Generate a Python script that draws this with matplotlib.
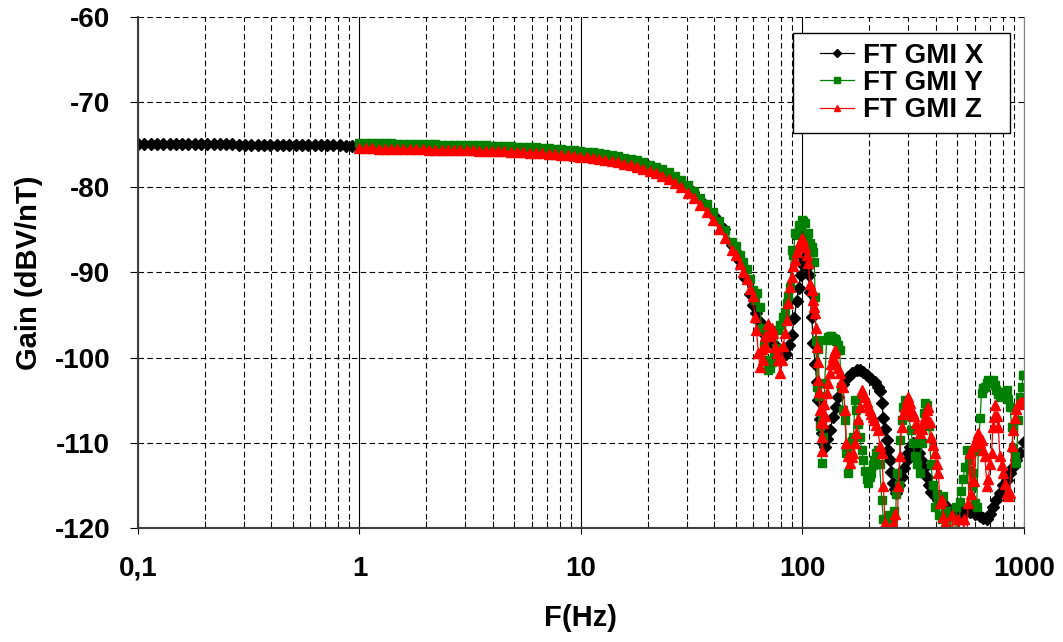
import matplotlib
matplotlib.use("Agg")
import matplotlib.pyplot as plt
from matplotlib.patches import Rectangle
from matplotlib.ticker import FixedLocator, LogLocator, NullFormatter

plt.rcParams['font.family'] = ['Liberation Sans', 'DejaVu Sans']
plt.rcParams['font.weight'] = 'bold'
plt.rcParams['axes.unicode_minus'] = False

# --- data ------------------------------------------------------------------
# FT GMI X, 0.1 .. 1 Hz (only drawn for this series)
fx_low = [0.100, 0.107, 0.114, 0.122, 0.130, 0.139, 0.148, 0.158, 0.169, 0.180,
          0.193, 0.206, 0.220, 0.235, 0.250, 0.267, 0.285, 0.305, 0.325, 0.347,
          0.371, 0.396, 0.423, 0.451, 0.482, 0.515, 0.550, 0.587, 0.627, 0.669,
          0.715, 0.763, 0.815, 0.870, 0.929]
gx_low = [-74.90, -74.90, -74.91, -74.91, -74.92, -74.92, -74.93, -74.93, -74.94, -74.94,
          -74.95, -74.95, -74.96, -74.96, -74.97, -74.97, -74.98, -74.98, -74.99, -74.99,
          -75.00, -75.00, -75.01, -75.01, -75.02, -75.02, -75.03, -75.03, -75.04, -75.05,
          -75.06, -75.07, -75.08, -75.09, -75.10]

# FT GMI X, 1 .. 48 Hz (hidden under Y and Z)
fx_mid = [1.0, 1.3, 1.7, 2.2, 2.8, 3.6, 4.6, 6.0, 7.7, 10, 13, 16, 20, 24, 28, 32, 36, 40, 44, 48]
gx_mid = [-75.12, -75.14, -75.18, -75.26, -75.32, -75.37, -75.45, -75.60, -75.77, -76.05,
          -76.42, -76.85, -77.55, -78.35, -79.35, -80.55, -81.95, -83.40, -84.95, -86.80]

# FT GMI Y / Z, 1 .. 48 Hz
f_mid = [1.00, 1.07, 1.14, 1.22, 1.30, 1.39, 1.48, 1.58, 1.69, 1.80,
         1.93, 2.06, 2.20, 2.35, 2.50, 2.67, 2.85, 3.05, 3.25, 3.47,
         3.71, 3.96, 4.23, 4.51, 4.82, 5.15, 5.50, 5.87, 6.27, 6.69,
         7.15, 7.63, 8.15, 8.70, 9.29, 9.92, 10.6, 11.3, 12.1, 12.9,
         13.8, 14.7, 15.7, 16.8, 17.9, 19.1, 20.4, 21.8, 23.3, 24.9,
         26.6, 28.4, 30.3, 32.4, 34.6, 36.9, 39.4, 42.1, 44.9, 48.0]
gy_mid = [-74.80, -74.81, -74.82, -74.83, -74.84, -74.85, -74.86, -74.87, -74.88, -74.90,
          -74.92, -74.95, -74.96, -74.98, -75.00, -75.01, -75.02, -75.04, -75.05, -75.06,
          -75.08, -75.10, -75.12, -75.15, -75.18, -75.21, -75.24, -75.28, -75.32, -75.36,
          -75.41, -75.46, -75.52, -75.58, -75.65, -75.73, -75.82, -75.90, -76.00, -76.10,
          -76.22, -76.35, -76.50, -76.66, -76.84, -77.05, -77.32, -77.58, -77.90, -78.25,
          -78.70, -79.15, -79.75, -80.40, -81.20, -82.00, -82.90, -83.90, -85.00, -86.40]
gz_mid = [-75.40, -75.42, -75.43, -75.44, -75.45, -75.46, -75.47, -75.48, -75.49, -75.51,
          -75.53, -75.56, -75.57, -75.59, -75.61, -75.62, -75.64, -75.66, -75.67, -75.68,
          -75.70, -75.72, -75.75, -75.78, -75.81, -75.84, -75.87, -75.91, -75.96, -76.00,
          -76.05, -76.11, -76.17, -76.24, -76.31, -76.40, -76.49, -76.58, -76.68, -76.79,
          -76.92, -77.05, -77.21, -77.38, -77.57, -77.79, -78.07, -78.35, -78.68, -79.05,
          -79.52, -80.00, -80.62, -81.30, -82.12, -82.95, -83.88, -84.90, -86.00, -87.40]

# 50 .. 1000 Hz
fx_hi = [50, 52, 55, 58, 60, 62, 64, 66, 68, 71, 74, 77, 81, 84, 87, 89.5, 92, 94, 96, 98,
         100, 101.5, 103, 105, 106.5, 108, 110, 112, 114, 116, 118, 120, 122, 124, 126, 129,
         133, 137, 141, 145, 152, 160, 168, 176, 182, 188, 195, 204, 213, 220, 224, 228, 232,
         236, 240, 244, 248, 252, 256, 261, 265, 272, 280, 287, 295, 300, 306, 311, 316, 321,
         327, 335, 344, 353, 363, 372, 382, 395, 410, 425, 440, 463, 490, 520, 545, 570, 600,
         630, 655, 680, 700, 724, 750, 779, 807, 838, 865, 892, 925, 959, 1000]
gx_hi = [-87.6, -88.6, -90.6, -92.5, -93.8, -94.8, -95.8, -96.6, -97.3, -98.1, -98.5, -98.8,
         -99.3, -99.6, -98.5, -97.3, -95.3, -93.4, -91.8, -90.3, -89.0, -88.3, -88.6, -89.3,
         -90.3, -92.3, -95.2, -98.3, -100.8, -102.8, -105.0, -107.2, -108.8, -110.0, -110.5,
         -109.6, -108.5, -107.0, -105.8, -104.6, -103.1, -102.3, -101.8, -101.5, -101.4,
         -101.7, -102.0, -102.5, -102.9, -103.4, -103.9, -105.3, -107.1, -108.4, -109.7,
         -110.9, -112.0, -113.4, -114.7, -115.4, -115.9, -115.0, -114.0, -113.0, -112.0,
         -111.2, -110.5, -110.2, -110.0, -110.2, -110.5, -111.2, -112.0, -113.0, -114.0,
         -115.0, -115.8, -116.3, -116.7, -117.0, -117.3, -118.1, -118.1, -118.1, -118.1,
         -118.1, -118.4, -118.6, -118.8, -119.0, -118.3, -117.5, -116.7, -115.9, -115.0,
         -114.4, -113.6, -112.8, -112.0, -111.2, -109.9]

fy_hi = [50, 52, 54, 56, 58, 60, 61, 62.5, 64, 65.5, 67, 68.5, 70, 71.5, 73, 74.5, 76, 77.8,
         79.5, 81.6, 83, 84.7, 86.2, 87.8, 89.3, 91, 92.5, 94.2, 96, 97.5, 99, 100.8, 102.6,
         104.5, 106.2, 108, 110, 111.7, 113, 114, 115, 116, 117, 118, 119, 120.5, 122, 123,
         124, 126, 128.5, 131, 133, 135, 137, 139.5, 142, 144.5, 147, 150, 152.5, 155.6, 158,
         161, 164, 167, 169.6, 172.6, 175.3, 178, 181.8, 185, 188, 191.5, 195, 198, 201, 204,
         207.5, 211, 215, 219, 223, 228, 232, 236, 240, 245, 250, 254, 258, 262, 265, 268,
         272, 275.6, 280, 285, 290, 296, 302, 308, 315, 322, 330, 338, 345, 352, 358, 365,
         372, 380, 388, 396, 404, 412, 420, 428, 432, 436, 445, 455, 463, 470, 480, 495, 505,
         515, 522, 531, 542, 553, 562, 570, 580, 590, 601, 611, 622, 634, 643, 655, 667, 678,
         690, 705, 724, 738, 750, 765, 779, 793, 807, 820, 835, 850, 865, 880, 895, 910, 925,
         940, 959, 975, 993, 1000]
gy_hi = [-86.9, -88.0, -88.8, -89.6, -90.8, -92.0, -93.2, -92.4, -94.0, -96.5, -98.6, -100.3,
         -101.5, -101.2, -100.5, -99.6, -98.9, -96.7, -96.2, -95.2, -94.6, -93.6, -92.8, -91.7,
         -87.4, -87.9, -85.4, -85.6, -84.4, -84.5, -83.8, -84.0, -84.2, -85.6, -85.4, -86.5,
         -87.0, -87.6, -88.8, -92.9, -98.1, -103.4, -99.0, -97.9, -104.5, -108.0, -112.4,
         -107.3, -109.3, -103.0, -97.9, -97.6, -97.5, -97.4, -97.7, -97.8, -98.1, -98.5, -99.1,
         -103.4, -106.1, -107.3, -111.2, -113.5, -110.4, -109.8, -109.3, -105.0, -106.1,
         -107.8, -109.3, -110.8, -112.0, -113.3, -114.3, -114.7, -114.0, -113.5, -112.6,
         -112.0, -111.2, -110.8, -112.5, -116.7, -119.0, -123.0, -121.0, -118.5, -124.0,
         -119.0, -118.0, -121.5, -116.0, -113.5, -115.0, -109.7, -107.3, -105.8, -105.0,
         -105.2, -106.8, -108.5, -110.0, -111.5, -112.5, -113.5, -110.0, -106.5, -105.3,
         -105.6, -108.0, -112.5, -115.0, -117.5, -116.0, -118.5, -116.5, -119.0, -116.3,
         -122.0, -118.0, -125.0, -118.7, -121.0, -123.0, -117.5, -124.0, -117.0, -115.7,
         -114.2, -112.8, -110.8, -112.0, -113.2, -115.1, -113.5, -117.1, -117.5, -111.0,
         -107.1, -104.2, -103.6, -103.4, -103.0, -102.6, -102.9, -102.6, -103.2, -103.8,
         -104.3, -104.6, -104.0, -104.2, -104.0, -103.8, -104.8, -105.8, -108.1, -110.6,
         -111.5, -112.4, -107.3, -104.6, -103.5, -102.0, -102.0]

fz_hi = [50, 52, 54, 56, 58, 59.7, 61, 62, 63.2, 64.3, 65.4, 66.5, 67.5, 68.6, 70, 71.3, 72.5,
         73.8, 75.1, 76.5, 77.8, 79.1, 80.5, 82, 83.4, 84.7, 86.2, 87.8, 89.3, 91, 92.5, 94, 96,
         97.5, 99, 100.8, 102.6, 104.5, 106.2, 108, 110, 111.7, 113, 113.9, 115, 116, 117, 118,
         119, 120, 121, 122, 123, 124, 125.5, 127, 129, 131, 133, 135, 137, 138.5, 140, 142,
         144.5, 147, 150, 152.5, 155.6, 158, 161, 164, 167, 169.6, 172.5, 175, 178.5, 182, 185,
         188, 191.7, 195, 198, 201, 204, 207.5, 211, 215, 219, 224, 228, 232, 235.8, 238, 245,
         250, 255, 262, 266, 271, 275.6, 280, 285, 290, 295, 301, 305, 310, 315, 320, 327, 333,
         339, 345, 351, 357, 363, 369, 375, 382, 389, 396, 403, 410, 418, 425, 432, 440, 447,
         460, 475, 490, 505, 520, 535, 548, 560, 570, 575, 590, 597, 611, 622, 632, 643, 655,
         667, 680, 690, 702, 714, 724, 732, 740, 752, 765, 779, 793, 807, 820, 835, 850, 865,
         880, 895, 910, 925, 940, 955, 970, 985, 1000]
gz_hi = [-87.9, -89.0, -89.9, -90.8, -91.9, -92.8, -95.2, -96.7, -99.5, -101.1, -99.0, -100.3,
         -97.5, -98.7, -96.0, -97.5, -96.5, -97.1, -98.7, -99.5, -100.3, -101.8, -100.3, -98.6,
         -97.1, -95.6, -93.6, -91.7, -90.5, -89.2, -88.5, -87.6, -87.0, -86.4, -86.0, -86.3,
         -87.0, -88.0, -88.9, -91.3, -92.0, -93.2, -94.0, -94.8, -96.5, -98.7, -100.5, -102.6,
         -104.0, -106.1, -107.5, -109.3, -111.0, -107.7, -105.5, -106.8, -104.2, -103.0,
         -101.8, -100.7, -99.9, -99.4, -99.1, -100.7, -101.2, -101.8, -102.8, -103.4, -106.1,
         -110.0, -111.5, -112.4, -111.7, -111.2, -110.0, -108.9, -107.2, -105.8, -103.8,
         -104.2, -104.6, -105.2, -105.8, -106.2, -106.6, -107.0, -107.3, -107.9, -108.5,
         -110.4, -111.2, -115.1, -119.4, -122.0, -120.5, -124.0, -119.5, -118.3, -122.0,
         -115.1, -111.6, -108.1, -106.6, -105.8, -105.0, -104.6, -105.3, -106.2, -106.5,
         -106.9, -107.7, -108.3, -108.9, -108.4, -107.7, -107.0, -106.2, -105.8, -107.5,
         -109.3, -110.2, -111.2, -112.5, -113.5, -117.1, -116.7, -118.7, -119.4, -122.0,
         -125.0, -118.5, -124.0, -119.0, -125.0, -119.0, -123.0, -117.1, -111.2, -116.0,
         -110.4, -114.5, -109.3, -108.9, -110.0, -109.7, -110.8, -111.6, -115.1, -114.3,
         -112.5, -111.2, -108.1, -107.0, -105.6, -106.8, -108.1, -111.6, -112.6, -113.5,
         -114.8, -115.9, -116.2, -115.9, -110.4, -108.5, -107.1, -106.0, -105.4, -105.3,
         -105.2, -105.2, -105.2]

labels = ["FT GMI X", "FT GMI Y", "FT GMI Z"]
x_ticks = [0.1, 1, 10, 100, 1000]
x_tick_labels = ["0,1", "1", "10", "100", "1000"]
y_ticks = [-120, -110, -100, -90, -80, -70, -60]

# --- figure ----------------------------------------------------------------
fig = plt.figure(figsize=(10.63, 6.42), dpi=100)
ax = fig.add_axes([0.1298, 0.1776, 0.8335, 0.7959])

ax.plot(fx_low + fx_mid + fx_hi, gx_low + gx_mid + gx_hi, color='black', lw=0.9,
        marker='D', ms=6, label=labels[0])
ax.plot(f_mid + fy_hi, gy_mid + gy_hi, color='#008000', lw=0.9,
        marker='s', ms=5.3, label=labels[1])
ax.plot(f_mid + fz_hi, gz_mid + gz_hi, color='#ff0000', lw=0.9,
        marker='^', ms=6.5, label=labels[2])

ax.set_xscale('log')
ax.set_xlim(0.1, 1000)
ax.set_ylim(-120, -60)

ax.xaxis.set_major_locator(FixedLocator(x_ticks))
ax.set_xticklabels(x_tick_labels)
ax.xaxis.set_minor_locator(LogLocator(base=10, subs=range(2, 10)))
ax.xaxis.set_minor_formatter(NullFormatter())
ax.set_yticks(y_ticks)

ax.set_axisbelow(True)
ax.grid(which='major', axis='x', color='black', lw=0.8, ls='-')
ax.grid(which='minor', axis='x', color='black', lw=0.8, ls=(0, (5, 3)))
ax.grid(which='major', axis='y', color='black', lw=0.8, ls=(0, (5, 3)))

for side in ('left', 'bottom'):
    ax.spines[side].set_color('#404040')
    ax.spines[side].set_linewidth(1.5)
ax.spines['right'].set_color('#808080')
ax.spines['top'].set_visible(False)

ax.tick_params(axis='y', which='major', direction='out', length=6, labelsize=20, pad=14)
ax.tick_params(axis='x', which='major', direction='inout', length=8, labelsize=20, pad=16)
ax.tick_params(axis='x', which='minor', direction='in', length=5)

ax.set_xlabel("F(Hz)", fontsize=21, fontweight='bold', labelpad=16)
ax.set_ylabel("Gain (dBV/nT)", fontsize=21, fontweight='bold', labelpad=8)

# legend box (drawn separately so its padding matches the original)
ax.add_patch(Rectangle((0.739, 0.773), 0.245, 0.196, transform=ax.transAxes,
                       facecolor='white', edgecolor='black', lw=1.0, zorder=4.9))
leg = ax.legend(loc='center left', bbox_to_anchor=(0.770, 0.871), borderaxespad=0,
                frameon=False, prop={'size': 20, 'weight': 'bold'}, handlelength=1.2,
                handletextpad=0.35, labelspacing=0.05, borderpad=0, markerscale=0.75)

fig.savefig('out.png', dpi=100)
